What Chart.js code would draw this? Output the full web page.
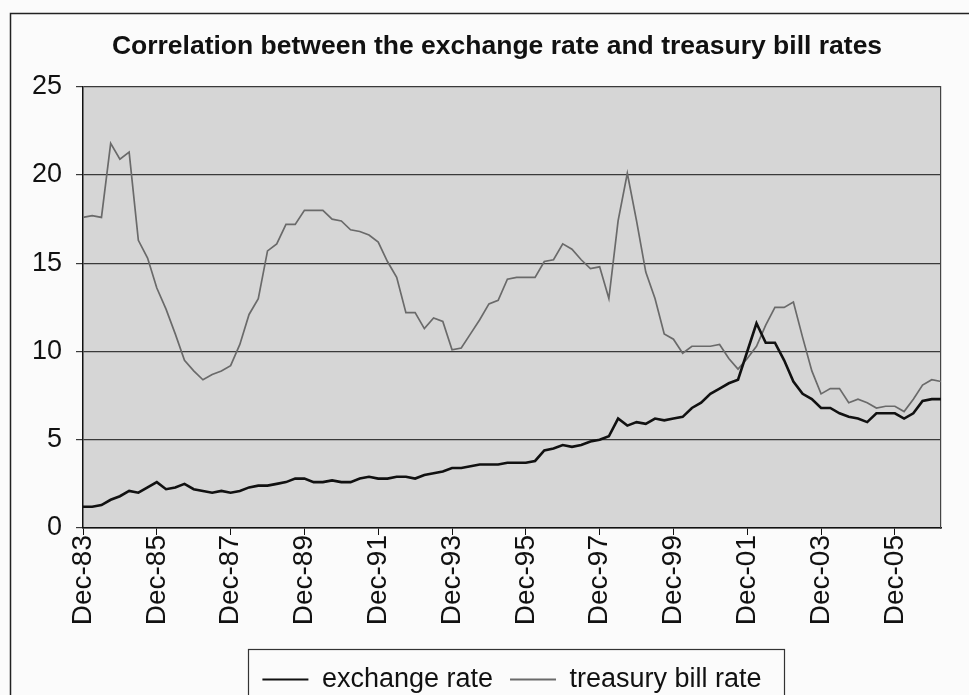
<!DOCTYPE html>
<html>
<head>
<meta charset="utf-8">
<script src="https://cdn.jsdelivr.net/npm/chart.js@4/dist/chart.umd.min.js"></script>
<style>
  html, body { margin: 0; padding: 0; background: #fbfbfb; }
  #wrap { width: 969px; height: 695px; }
</style>
</head>
<body>
<div id="wrap"><canvas id="rateChart" width="969" height="695"></canvas></div>
<script>
// quarterly observations, Dec-83 .. Mar-07
const months = ['Dec', 'Mar', 'Jun', 'Sep'];
const quarterLabels = [];
for (let i = 0; i < 94; i++) {
    const m = i % 4;
    const yr = 1983 + Math.floor((i + 3) / 4);
    quarterLabels.push(months[m] + '-' + String(yr % 100).padStart(2, '0'));
}

const tickLabels = ['Dec-83', 'Dec-85', 'Dec-87', 'Dec-89', 'Dec-91', 'Dec-93',
    'Dec-95', 'Dec-97', 'Dec-99', 'Dec-01', 'Dec-03', 'Dec-05'];

const exchangeRate = [
    1.2, 1.2, 1.3, 1.6, 1.8, 2.1, 2.0, 2.3, 2.6, 2.2,
    2.3, 2.5, 2.2, 2.1, 2.0, 2.1, 2.0, 2.1, 2.3, 2.4,
    2.4, 2.5, 2.6, 2.8, 2.8, 2.6, 2.6, 2.7, 2.6, 2.6,
    2.8, 2.9, 2.8, 2.8, 2.9, 2.9, 2.8, 3.0, 3.1, 3.2,
    3.4, 3.4, 3.5, 3.6, 3.6, 3.6, 3.7, 3.7, 3.7, 3.8,
    4.4, 4.5, 4.7, 4.6, 4.7, 4.9, 5.0, 5.2, 6.2, 5.8,
    6.0, 5.9, 6.2, 6.1, 6.2, 6.3, 6.8, 7.1, 7.6, 7.9,
    8.2, 8.4, 10.0, 11.6, 10.5, 10.5, 9.5, 8.3, 7.6, 7.3,
    6.8, 6.8, 6.5, 6.3, 6.2, 6.0, 6.5, 6.5, 6.5, 6.2,
    6.5, 7.2, 7.3, 7.3
];

const treasuryBill = [
    17.6, 17.7, 17.6, 21.8, 20.9, 21.3, 16.3, 15.3, 13.6, 12.4,
    11.0, 9.5, 8.9, 8.4, 8.7, 8.9, 9.2, 10.4, 12.1, 13.0,
    15.7, 16.1, 17.2, 17.2, 18.0, 18.0, 18.0, 17.5, 17.4, 16.9,
    16.8, 16.6, 16.2, 15.1, 14.2, 12.2, 12.2, 11.3, 11.9, 11.7,
    10.1, 10.2, 11.0, 11.8, 12.7, 12.9, 14.1, 14.2, 14.2, 14.2,
    15.1, 15.2, 16.1, 15.8, 15.2, 14.7, 14.8, 13.0, 17.4, 20.1,
    17.4, 14.5, 13.0, 11.0, 10.7, 9.9, 10.3, 10.3, 10.3, 10.4,
    9.6, 9.0, 9.6, 10.3, 11.5, 12.5, 12.5, 12.8, 10.8, 8.9,
    7.6, 7.9, 7.9, 7.1, 7.3, 7.1, 6.8, 6.9, 6.9, 6.6,
    7.3, 8.1, 8.4, 8.3
];

const yTicks = [0, 5, 10, 15, 20, 25];

const FONT = "'Liberation Sans', Arial, sans-serif";

// page frame, grey plot area and the legend's box
const decor = {
    id: 'decor',
    beforeDraw(chart) {
        const ctx = chart.ctx;
        const a = chart.chartArea;
        ctx.save();
        ctx.fillStyle = '#fbfbfb';
        ctx.fillRect(0, 0, chart.width, chart.height);
        ctx.strokeStyle = '#222';
        ctx.lineWidth = 1.5;
        ctx.beginPath();
        ctx.moveTo(10.5, chart.height);
        ctx.lineTo(10.5, 13.5);
        ctx.lineTo(chart.width, 13.5);
        ctx.stroke();
        ctx.fillStyle = '#d6d6d6';
        ctx.fillRect(a.left, a.top, a.right - a.left, a.bottom - a.top);
        ctx.restore();
    },
    afterDraw(chart) {
        const lg = chart.legend;
        const hb = lg.legendHitBoxes;
        if (!hb || !hb.length) return;
        const first = hb[0];
        const last = hb[hb.length - 1];
        const ctx = chart.ctx;
        ctx.save();
        ctx.strokeStyle = '#333';
        ctx.lineWidth = 1.2;
        const x0 = Math.round(first.left - 14) + 0.5;
        const x1 = Math.round(last.left + last.width + 22) + 0.5;
        ctx.strokeRect(x0, Math.round(lg.top) + 0.5, x1 - x0, lg.height + 20);
        ctx.restore();
    }
};

new Chart(document.getElementById('rateChart'), {
    type: 'line',
    data: {
        labels: quarterLabels,
        datasets: [{
            label: 'exchange rate',
            data: exchangeRate,
            borderColor: '#111111',
            backgroundColor: '#111111',
            borderWidth: 2.6,
            pointRadius: 0,
            tension: 0
        }, {
            label: 'treasury bill rate',
            data: treasuryBill,
            borderColor: '#6a6a6a',
            backgroundColor: '#6a6a6a',
            borderWidth: 1.7,
            pointRadius: 0,
            tension: 0
        }]
    },
    options: {
        responsive: false,
        animation: false,
        layout: { padding: { left: 10, right: -15, top: 0, bottom: -8 } },
        plugins: {
            title: {
                display: true,
                text: 'Correlation between the exchange rate and treasury bill rates',
                color: '#111',
                font: { family: FONT, size: 26.5, weight: 'bold' },
                padding: { top: 31, bottom: 24 }
            },
            legend: {
                position: 'bottom',
                fullSize: false,
                labels: {
                    color: '#111',
                    font: { family: FONT, size: 27 },
                    boxWidth: 46,
                    boxHeight: 2,
                    padding: 17,
                    generateLabels(chart) {
                        return Chart.defaults.plugins.legend.labels.generateLabels(chart)
                            .map(it => Object.assign(it, { lineWidth: 0, fillStyle: it.strokeStyle }));
                    }
                }
            },
            tooltip: { enabled: false }
        },
        scales: {
            x: {
                offset: false,
                border: { color: '#111', width: 1.5 },
                grid: {
                    drawOnChartArea: false,
                    drawTicks: true,
                    tickLength: 7,
                    color: c => tickLabels.includes(quarterLabels[c.index]) ? '#111' : 'rgba(0,0,0,0)'
                },
                ticks: {
                    autoSkip: false,
                    minRotation: 90,
                    maxRotation: 90,
                    padding: 0,
                    color: '#111',
                    font: { family: FONT, size: 28 },
                    callback: (v, i) => tickLabels.includes(quarterLabels[i]) ? quarterLabels[i] : ''
                },
                afterFit: s => {
                    s.height = 121;
                    s.paddingLeft = 0;
                    s.paddingRight = 0;
                }
            },
            y: {
                min: yTicks[0],
                max: yTicks[yTicks.length - 1],
                border: { color: '#111', width: 1.5 },
                grid: { color: '#3a3a3a', lineWidth: 1.2, tickLength: 7 },
                ticks: {
                    stepSize: 5,
                    padding: 14,
                    color: '#111',
                    font: { family: FONT, size: 27 }
                },
                afterBuildTicks: s => { s.ticks = yTicks.map(v => ({ value: v })); },
                afterFit: s => { s.width = 73; }
            },
            y2: {
                position: 'right',
                min: 0,
                max: 25,
                grid: { display: false },
                ticks: { display: false },
                border: { display: true, color: '#444', width: 1.2 },
                afterFit: s => { s.width = 43; }
            }
        }
    },
    plugins: [decor]
});
</script>
</body>
</html>
